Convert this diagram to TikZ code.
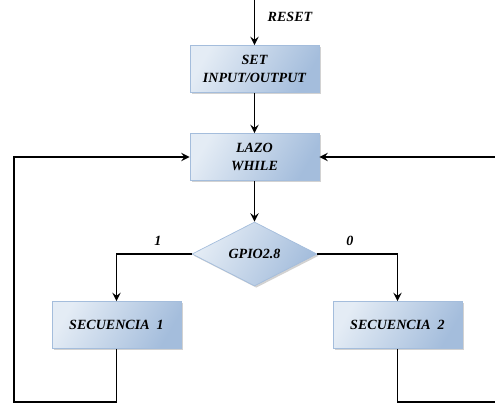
\documentclass[tikz,border=0pt]{standalone}
\usepackage{fontspec}
\setmainfont{Liberation Serif}
\usetikzlibrary{shapes.geometric,shadows}

\begin{document}
\begin{tikzpicture}[x=0.02cm,y=-0.02cm,>=stealth]
	\definecolor{boxlight}{HTML}{E4ECF5}
	\definecolor{boxdark}{HTML}{A4BDDC}
	\tikzset{
		blockbox/.style={draw=boxdark,thin,left color=boxlight,right color=boxdark,shading angle=60,
			drop shadow={shadow xshift=1pt,shadow yshift=-1pt,fill=black!35},
			minimum width=2.58cm,minimum height=0.94cm,align=center,
			font=\bfseries\itshape\fontsize{8}{10}\selectfont},
		testbox/.style={blockbox,diamond,aspect=2,minimum width=2.5cm,minimum height=1.28cm,inner sep=1pt},
		flow/.style={->,line width=1.1pt},
		edgelabel/.style={font=\bfseries\itshape\fontsize{8}{10}\selectfont}
	}
	\useasboundingbox (0,0) rectangle (495,405);

	% blocks
	\node[blockbox] (set) at (254.5,69) {SET\\INPUT/OUTPUT};
	\node[blockbox] (lazo) at (254.5,157) {LAZO\\WHILE};
	\node[testbox] (gpio) at (254.5,254) {GPIO2.8};
	\node[blockbox] (sec1) at (116.5,325) {SECUENCIA \ 1};
	\node[blockbox] (sec2) at (397.5,325) {SECUENCIA \ 2};

	\coordinate (reset) at (254.5,0);
	\coordinate (loopL) at (14,402);
	\coordinate (loopR) at (497,402);

	% arrows
	\draw[flow] (reset) -- (set);
	\draw[flow] (set) -- (lazo);
	\draw[flow] (lazo) -- (gpio);
	\draw[flow] (gpio.west) -| (sec1);
	\draw[flow] (gpio.east) -| (sec2);
	\draw[flow] (sec1.south) |- (loopL) |- (lazo.west);
	\draw[flow] (sec2.south) |- (loopR) |- (lazo.east);

	% labels
	\node[edgelabel] (resetlbl) at (290,17) {RESET};
	\node[edgelabel] (onelbl) at (158,241) {1};
	\node[edgelabel] (zerolbl) at (350,241) {0};
\end{tikzpicture}
\end{document}
